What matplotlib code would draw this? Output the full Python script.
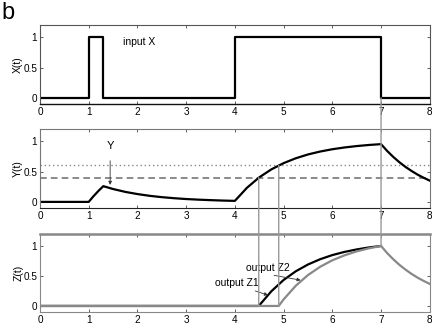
import matplotlib
matplotlib.use("Agg")
import matplotlib.pyplot as plt
from matplotlib.patches import ConnectionPatch

plt.rcParams['font.family'] = ['Liberation Sans', 'DejaVu Sans']

# ---- data ----
x_t = [0, 1, 1, 1.3, 1.3, 4, 4, 7, 7, 8]
x_v = [0, 0, 1, 1, 0, 0, 1, 1, 0, 0]

y_t = [0, 1, 1.1, 1.2, 1.3, 1.5, 1.75, 2.0, 2.25, 2.5, 2.75, 3.0, 3.25, 3.5, 3.75,
       4.0, 4.25, 4.5, 4.75, 5.0, 5.25, 5.5, 5.75, 6.0, 6.25, 6.5, 6.75, 7.0,
       7.125, 7.25, 7.375, 7.5, 7.625, 7.75, 7.875, 8.0]
y_v = [0, 0, 0.095, 0.181, 0.259, 0.212, 0.165, 0.129, 0.100, 0.078, 0.061, 0.047,
       0.037, 0.029, 0.022, 0.017, 0.234, 0.404, 0.536, 0.638, 0.718, 0.781, 0.829,
       0.867, 0.896, 0.919, 0.937, 0.951, 0.839, 0.741, 0.654, 0.577, 0.510,
       0.449, 0.397, 0.350]

z1_t = [0, 4.49, 4.75, 5.0, 5.25, 5.5, 5.75, 6.0, 6.25, 6.5, 6.75, 7.0]
z1_v = [0, 0, 0.246, 0.433, 0.578, 0.691, 0.779, 0.848, 0.901, 0.942, 0.975, 1.0]

z2_t = [0, 4.9, 5.0, 5.25, 5.5, 5.75, 6.0, 6.25, 6.5, 6.75, 7.0,
        7.125, 7.25, 7.375, 7.5, 7.625, 7.75, 7.875, 8.0]
z2_v = [0, 0, 0.109, 0.337, 0.515, 0.653, 0.761, 0.844, 0.910, 0.961, 1.0,
        0.882, 0.779, 0.687, 0.607, 0.535, 0.472, 0.417, 0.368]

theta_low = 0.4
theta_high = 0.6
t_cross1 = 4.49
t_cross2 = 4.9
t_off = 7

xticks = [0, 1, 2, 3, 4, 5, 6, 7, 8]
yticks = [0, 0.5, 1]
yticklabels = ['0', '0.5', '1']

# ---- figure ----
fig = plt.figure(figsize=(4.36, 3.27), dpi=100)
ax1 = fig.add_axes([0.0917, 0.682, 0.894, 0.2415])
ax2 = fig.add_axes([0.0917, 0.364, 0.894, 0.2415])
ax3 = fig.add_axes([0.0917, 0.046, 0.894, 0.2385])

for ax, lab, spc in [(ax1, 'X(t)', '#555555'), (ax2, 'Y(t)', '#777777'), (ax3, 'Z(t)', '#888888')]:
    ax.set_xlim(0, 8)
    ax.set_ylim(-0.1, 1.2)
    ax.set_xticks(xticks)
    ax.set_yticks(yticks)
    ax.set_yticklabels(yticklabels)
    ax.tick_params(direction='in', length=2.5, width=0.6, labelsize=7.2, pad=2,
                   top=True, right=True, colors='#444444', labelcolor='black')
    ax.set_ylabel(lab, fontsize=7.5, labelpad=0)
    for s in ax.spines.values():
        s.set_color(spc)
        s.set_linewidth(0.8)
ax1.spines['bottom'].set_color('#111111')
ax1.spines['bottom'].set_linewidth(1.0)
ax2.spines['bottom'].set_color('#222222')
ax3.spines['top'].set_linewidth(1.8)

# X
ax1.plot(x_t, x_v, color='black', lw=1.6)
ax1.text(1.7, 0.92, 'input X', fontsize=7.5, va='center', ha='left')

# Y
ax2.axhline(theta_high, color='#888888', lw=1.0, ls=(0, (1, 2)))
ax2.axhline(theta_low, color='#777777', lw=1.2, ls=(0, (4, 2.5)))
ax2.plot(y_t, y_v, color='black', lw=1.6)
ax2.annotate('Y', xy=(1.44, 0.28), xytext=(1.44, 0.92), fontsize=8,
             ha='center', va='center',
             arrowprops=dict(arrowstyle='-|>', color='#333333', lw=0.6,
                             mutation_scale=5, shrinkA=5, shrinkB=0))

# Z
ax3.plot(z1_t, z1_v, color='black', lw=1.6)
ax3.plot(z2_t, z2_v, color='#888888', lw=1.6)
ax3.annotate('output Z2', xy=(5.35, 0.43), xytext=(4.22, 0.64), fontsize=7.5,
             ha='left', va='center',
             arrowprops=dict(arrowstyle='-|>', color='#333333', lw=0.6,
                             mutation_scale=5, shrinkA=0, shrinkB=0,
                             relpos=(0.3, 0.0)))
ax3.annotate('output Z1', xy=(4.68, 0.18), xytext=(3.6, 0.38), fontsize=7.5,
             ha='left', va='center',
             arrowprops=dict(arrowstyle='-|>', color='#333333', lw=0.6,
                             mutation_scale=5, shrinkA=0, shrinkB=0,
                             relpos=(0.72, 0.0)))

# connectors
for (a, pa, b, pb) in [(ax2, (t_cross1, theta_low), ax3, (t_cross1, 0)),
                       (ax2, (t_cross2, theta_high), ax3, (t_cross2, 0)),
                       (ax1, (t_off, 0), ax3, (t_off, 1))]:
    cp = ConnectionPatch(xyA=pa, coordsA=a.transData, xyB=pb, coordsB=b.transData,
                         color='#999999', lw=1.0, zorder=10)
    fig.add_artist(cp)

fig.text(0.003, 0.995, 'b', fontsize=17, ha='left', va='top')

fig.savefig('out.png', dpi=100)
